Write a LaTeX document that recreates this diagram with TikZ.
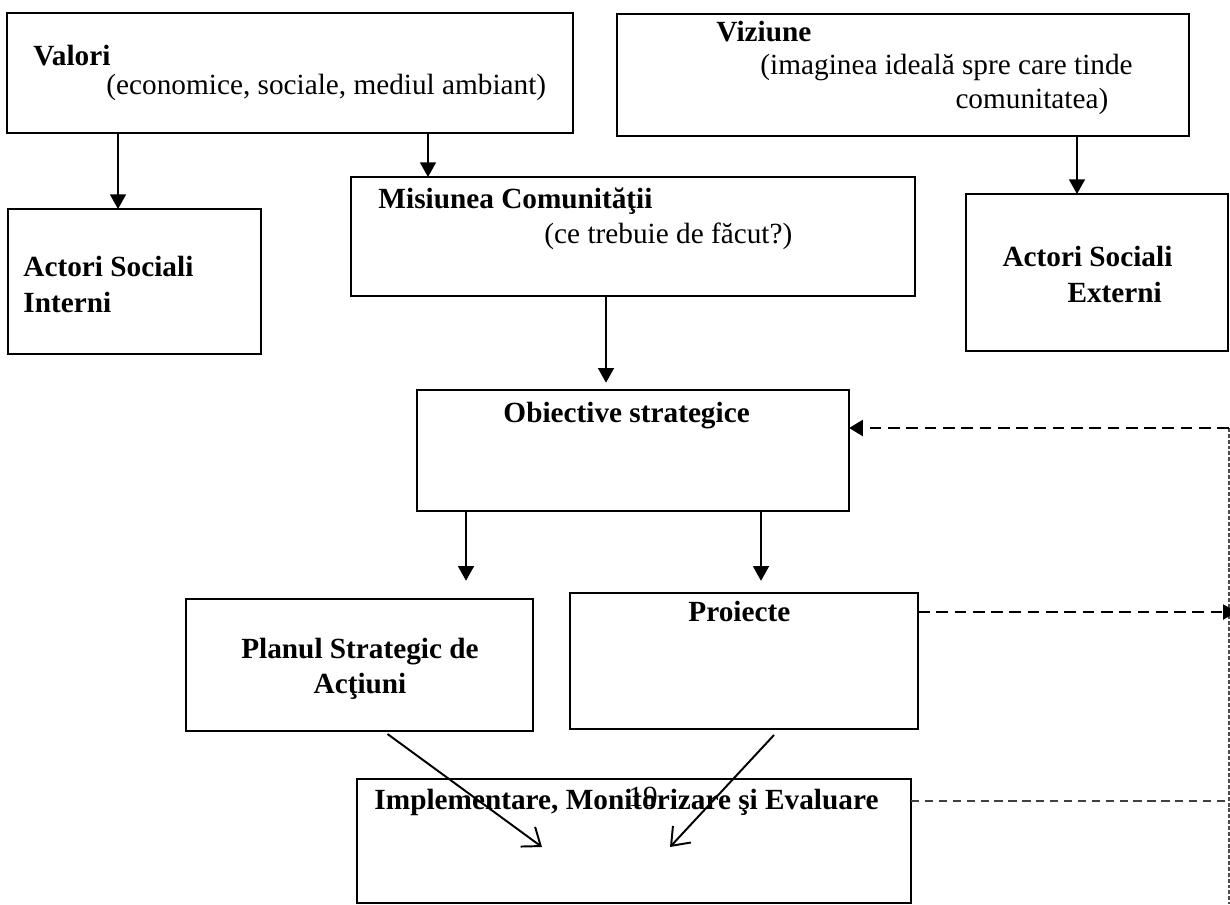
\documentclass[tikz,border=0pt]{standalone}
\usepackage{fontspec}
\setmainfont{Liberation Serif}
\usetikzlibrary{arrows.meta,fit}
\begin{document}
\begin{tikzpicture}[x=0.41pt,y=-0.41pt,
  box/.style={draw, line width=1.1pt, inner sep=0pt, outer sep=0pt},
  hd/.style={font=\fontsize{12}{14}\selectfont\bfseries, inner sep=0pt, anchor=base west},
  tx/.style={font=\fontsize{12}{14}\selectfont, inner sep=0pt, anchor=base west},
  arr/.style={line width=0.8pt, -{Triangle[length=6pt,width=6.5pt]}},
  barb/.style={line width=0.8pt, -{Straight Barb[length=6.5pt,width=10pt]}},
  fbthick/.style={line width=1.2pt, dash pattern=on 4.8pt off 2.7pt},
  fbmid/.style={line width=0.8pt, black!75, dash pattern=on 3.4pt off 2.3pt},
  fbthin/.style={line width=0.6pt, black!70, dash pattern=on 1.6pt off 0.8pt}]
\path[use as bounding box] (0,0) rectangle (1230,904);
\clip (0,0) rectangle (1230,904);

% boxes
\node[box, fit={(7,13) (573,133)}] (val) {};
\node[box, fit={(617,14) (1189,136)}] (viz) {};
\node[box, fit={(8,209) (261,354)}] (asi) {};
\node[box, fit={(351,177) (915,296)}] (mis) {};
\node[box, fit={(966,194) (1228,351)}] (ase) {};
\node[box, fit={(417,390) (849,511)}] (obi) {};
\node[box, fit={(186,599) (533,731)}] (pla) {};
\node[box, fit={(570,593) (918,729)}] (pro) {};
\node[box, fit={(357,779) (911,903)}] (imp) {};

% texts
\node[hd] (tval) at (33,65) {Valori};
\node[tx] (tval2) at (106,94) {(economice, sociale, mediul ambiant)};
\node[hd] (tviz) at (716,41) {Viziune};
\node[tx] (tviz2) at (760,74) {(imaginea ideală spre care tinde};
\node[tx] (tviz3) at (955,108) {comunitatea)};
\node[hd] (tasi1) at (23,276) {Actori Sociali};
\node[hd] (tasi2) at (23,312) {Interni};
\node[hd] (tmis1) at (378,208) {Misiunea Comunităţii};
\node[tx] (tmis2) at (544,243) {(ce trebuie de făcut?)};
\node[hd] (tase1) at (1002,266) {Actori Sociali};
\node[hd] (tase2) at (1067,302) {Externi};
\node[hd] (tobi) at (503,422) {Obiective strategice};
\node[hd, anchor=base] (tpla1) at (360,658) {Planul Strategic de};
\node[hd, anchor=base] (tpla2) at (360,693) {Acţiuni};
\node[hd] (tpro) at (688,621) {Proiecte};
\node[hd] (timp) at (374,809) {Implementare, Monitorizare şi Evaluare};
\node[tx] (tpage) at (628,806) {19};

% solid arrows
\coordinate (xa) at (118,0);
\coordinate (xb) at (428,0);
\coordinate (xc) at (1077,0);
\coordinate (xd) at (606,0);
\coordinate (xe) at (466,0);
\coordinate (xf) at (761,0);
\draw[arr] (val.south -| xa) -- (asi.north -| xa);
\draw[arr] (val.south -| xb) -- (mis.north -| xb);
\draw[arr] (viz.south -| xc) -- (ase.north -| xc);
\draw[arr, shorten >=3pt] (mis.south -| xd) -- (obi.north -| xd);
\draw[arr, shorten >=7.5pt] (obi.south -| xe) -- (pla.north -| xe);
\draw[arr, shorten >=5pt] (obi.south -| xf) -- (pro.north -| xf);

% diagonal arrows into implementation box
\coordinate (d1e) at (542,847);
\coordinate (d2e) at (670,847);
\draw[barb] ([shift={(28,3)}]pla.south) -- (d1e);
\draw[barb] ([shift={(30,6)}]pro.south) -- (d2e);

% feedback dashed lines
\coordinate (fb1) at (1229,428);
\coordinate (fb2) at (1229,904);
\coordinate (fb3) at (1237,612);
\coordinate (fb4) at (1229,801);
\draw[fbthin] (fb1) -- (fb2);
\draw[fbthick, -{Triangle[length=5.7pt,width=6.5pt]}] (fb1) -- (obi.east |- fb1);
\draw[fbthick, -{Triangle[length=5.7pt,width=6pt]}] (pro.east |- fb3) -- (fb3);
\draw[fbmid] (imp.east |- fb4) -- (fb4);
\end{tikzpicture}
\end{document}
